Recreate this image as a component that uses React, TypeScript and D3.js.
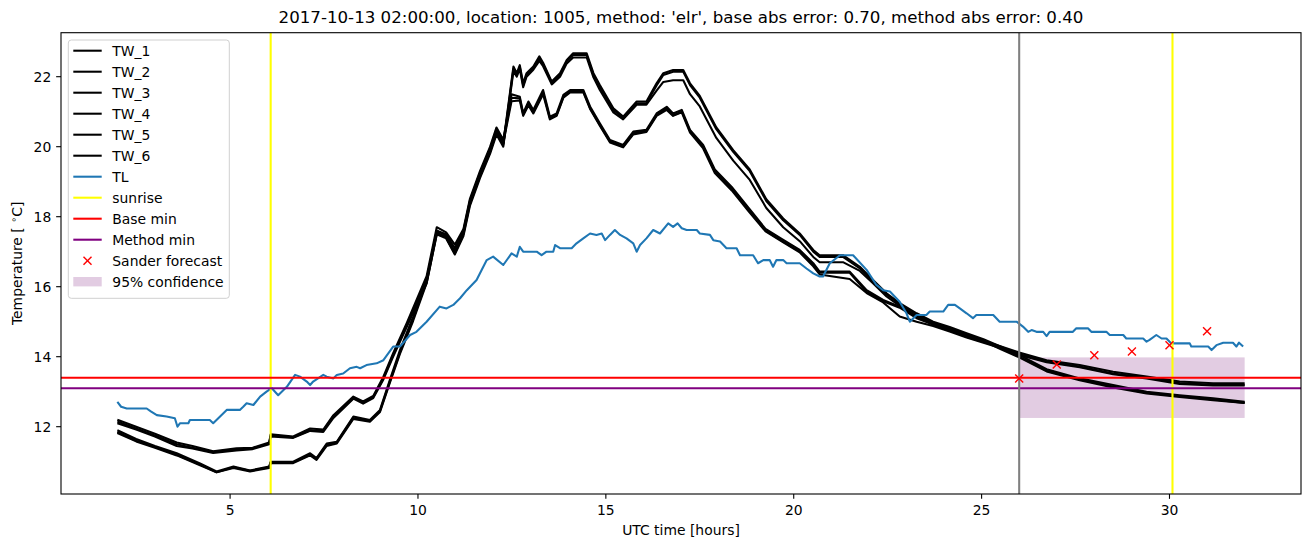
import React from "react";
import * as d3 from "d3";

// ---------------- data ----------------
const TITLE =
  "2017-10-13 02:00:00, location: 1005, method: 'elr', base abs error: 0.70, method abs error: 0.40";

const xTicks = [5, 10, 15, 20, 25, 30];
const yTicks = [12, 14, 16, 18, 20, 22];

const sunriseTimes = [6.08, 30.08];
const forecastStart = 26.0;
const baseMin = 13.4;
const methodMin = 13.1;
const confidence = { x0: 26.0, x1: 32.0, lo: 12.25, hi: 13.98 };

const sanderTimes = [26, 27, 28, 29, 30, 31];
const sanderValues = [13.38, 13.78, 14.04, 14.15, 14.33, 14.73];

const tlTimes = [
  2.0, 2.1, 2.25, 2.78, 2.9, 3.05, 3.31, 3.53, 3.6, 3.67, 3.89, 3.93, 4.46, 4.55, 4.91, 5.26, 5.35, 5.44, 5.62, 5.8,
  5.97, 6.11, 6.28, 6.51, 6.73, 6.86, 7.04, 7.13, 7.21, 7.48, 7.57, 7.75, 7.84, 8.01, 8.19, 8.37, 8.46, 8.63, 8.9, 9.08,
  9.34, 9.52, 9.79, 9.96, 10.23, 10.58, 10.76, 10.94, 11.12, 11.3, 11.56, 11.83, 12.0, 12.27, 12.49, 12.63, 12.71, 12.8, 13.16, 13.29,
  13.42, 13.6, 13.65, 13.78, 14.09, 14.22, 14.4, 14.58, 14.75, 14.89, 14.98, 15.11, 15.24, 15.38, 15.55, 15.73, 15.82, 15.91, 16.08, 16.26,
  16.44, 16.66, 16.79, 16.91, 17.02, 17.15, 17.42, 17.5, 17.77, 17.86, 18.04, 18.21, 18.48, 18.57, 18.92, 19.05, 19.19, 19.36, 19.45, 19.54,
  19.72, 19.81, 20.16, 20.34, 20.52, 20.69, 20.78, 20.96, 21.23, 21.58, 21.94, 22.2, 22.38, 22.56, 22.82, 23.0, 23.09, 23.27, 23.53, 23.62,
  23.98, 24.11, 24.29, 24.42, 24.6, 24.77, 24.86, 24.99, 25.31, 25.48, 25.93, 26.1, 26.24, 26.33, 26.46, 26.64, 26.73, 26.81, 27.43, 27.52,
  27.83, 27.92, 28.32, 28.41, 28.77, 28.85, 29.3, 29.39, 29.47, 29.65, 29.79, 29.92, 30.05, 30.54, 30.58, 31.03, 31.12, 31.25, 31.43, 31.69,
  31.78, 31.85, 31.96,
];
const tlValues = [
  12.71, 12.57, 12.52, 12.52, 12.43, 12.33, 12.29, 12.24, 12.0, 12.1, 12.1, 12.19, 12.19, 12.1, 12.48, 12.48, 12.57, 12.67, 12.62, 12.86,
  13.0, 13.1, 12.9, 13.14, 13.48, 13.43, 13.29, 13.19, 13.29, 13.48, 13.43, 13.38, 13.48, 13.52, 13.67, 13.71, 13.67, 13.76, 13.81, 13.9,
  14.29, 14.29, 14.62, 14.71, 15.0, 15.43, 15.38, 15.48, 15.67, 15.9, 16.19, 16.76, 16.86, 16.62, 16.95, 16.86, 17.14, 17.0, 17.0, 16.9,
  17.0, 17.0, 17.19, 17.1, 17.1, 17.24, 17.38, 17.52, 17.48, 17.52, 17.33, 17.48, 17.62, 17.48, 17.38, 17.24, 17.0, 17.19, 17.38, 17.62,
  17.52, 17.81, 17.71, 17.81, 17.67, 17.62, 17.62, 17.52, 17.48, 17.33, 17.29, 17.1, 17.1, 16.9, 16.9, 16.67, 16.76, 16.76, 16.57, 16.76,
  16.76, 16.67, 16.67, 16.52, 16.38, 16.29, 16.29, 16.67, 16.9, 16.9, 16.48, 16.05, 15.9, 15.86, 15.57, 15.24, 15.0, 15.19, 15.19, 15.29,
  15.29, 15.48, 15.48, 15.38, 15.24, 15.1, 15.19, 15.19, 15.19, 15.0, 15.0, 14.86, 14.71, 14.76, 14.71, 14.71, 14.59, 14.71, 14.71, 14.81,
  14.81, 14.71, 14.71, 14.62, 14.62, 14.52, 14.52, 14.43, 14.48, 14.62, 14.52, 14.52, 14.38, 14.38, 14.29, 14.29, 14.19, 14.33, 14.4, 14.4,
  14.29, 14.4, 14.29,
];

const timesA = [
  2.0, 2.5, 3.0, 3.58, 4.0, 4.55, 5.17, 5.6, 6.04, 6.08,
  6.68, 7.13, 7.48, 7.75, 8.28, 8.54, 8.81, 9.08, 9.34, 9.7,
  10.23, 10.5, 10.75, 10.98, 11.21, 11.38, 11.65, 11.92, 12.09, 12.27,
  12.49, 12.71, 12.8, 12.94, 13.07, 13.33, 13.51, 13.69, 13.87, 14.05,
  14.4, 14.58, 14.84, 15.11, 15.46, 15.73, 16.08, 16.35, 16.62, 16.79,
  17.02, 17.24, 17.59, 17.9, 18.35, 18.8, 19.25, 19.7, 20.16, 20.52,
  20.69, 21.49, 21.94, 22.38, 22.82, 23.27, 23.71, 24.15, 24.6, 25.05,
  25.5, 26.0, 26.73, 27.61, 28.5, 29.39, 30.27, 31.16, 32.0,
];
const tw1 = [
  12.2, 12.0, 11.8, 11.55, 11.45, 11.3, 11.38, 11.4, 11.55, 11.78,
  11.72, 11.95, 11.92, 12.33, 12.86, 12.72, 12.88, 13.43, 14.1, 14.96,
  16.3, 17.7, 17.55, 17.2, 17.65, 18.5, 19.3, 20.0, 20.55, 20.2,
  21.5, 21.43, 20.96, 21.29, 21.05, 21.62, 20.86, 20.95, 21.48, 21.62,
  21.62, 21.15, 20.67, 20.19, 20.05, 20.43, 20.48, 20.95, 21.14, 20.95,
  21.05, 20.48, 20.05, 19.35, 18.85, 18.25, 17.65, 17.35, 17.05, 16.67,
  16.43, 16.43, 15.9, 15.62, 15.43, 15.14, 14.95, 14.8, 14.6, 14.45,
  14.3, 14.12, 13.9, 13.76, 13.57, 13.43, 13.29, 13.24, 13.24,
];
const tw2 = [
  12.15, 11.95, 11.75, 11.5, 11.4, 11.28, 11.35, 11.38, 11.52, 11.76,
  11.7, 11.9, 11.88, 12.3, 12.82, 12.7, 12.85, 13.38, 14.05, 14.9,
  16.2, 17.6, 17.5, 17.1, 17.6, 18.45, 19.25, 19.95, 20.5, 20.15,
  21.4, 21.38, 20.92, 21.22, 21.0, 21.55, 20.82, 20.9, 21.42, 21.58,
  21.58, 21.1, 20.62, 20.15, 20.0, 20.38, 20.45, 20.9, 21.1, 20.9,
  21.0, 20.45, 20.0, 19.3, 18.8, 18.2, 17.6, 17.3, 17.0, 16.62,
  16.4, 16.4, 15.85, 15.58, 15.4, 15.1, 14.92, 14.75, 14.57, 14.42,
  14.27, 14.08, 13.86, 13.72, 13.52, 13.4, 13.25, 13.2, 13.2,
];
const tw3 = [
  12.1, 11.92, 11.72, 11.45, 11.38, 11.25, 11.32, 11.36, 11.5, 11.72,
  11.68, 11.88, 11.85, 12.25, 12.8, 12.66, 12.82, 13.35, 14.0, 14.85,
  16.1, 17.5, 17.42, 17.0, 17.55, 18.4, 19.2, 19.9, 20.45, 20.1,
  21.3, 21.32, 20.88, 21.18, 20.95, 21.5, 20.78, 20.88, 21.4, 21.55,
  21.55, 21.08, 20.6, 20.12, 19.98, 20.35, 20.42, 20.88, 21.05, 20.88,
  20.98, 20.4, 19.95, 19.25, 18.75, 18.15, 17.58, 17.28, 16.98, 16.58,
  16.35, 16.22, 15.82, 15.55, 15.15, 15.0, 14.88, 14.72, 14.55, 14.4,
  14.25, 14.05, 13.84, 13.7, 13.5, 13.38, 13.22, 13.18, 13.18,
];

const timesB = [
  2.0, 2.5, 3.0, 3.58, 4.2, 4.64, 5.09, 5.53, 6.04, 6.08,
  6.68, 7.13, 7.3, 7.57, 7.84, 8.28, 8.72, 8.99, 9.25, 9.52,
  9.87, 10.23, 10.5, 10.75, 10.98, 11.21, 11.38, 11.65, 11.92, 12.09,
  12.27, 12.54, 12.63, 12.71, 12.8, 12.89, 13.07, 13.23, 13.33, 13.56,
  13.78, 13.96, 14.13, 14.49, 14.67, 14.84, 15.2, 15.46, 15.82, 16.08,
  16.35, 16.53, 16.79, 17.06, 17.24, 17.5, 17.94, 18.39, 18.83, 19.27,
  19.72, 20.16, 20.52, 20.69, 21.31, 21.76, 22.11, 22.47, 22.82, 23.27,
  23.71, 24.15, 24.6, 25.05, 25.5, 26.0, 26.73, 27.61, 28.5, 29.39,
  30.27, 31.16, 32.0,
];
const tw4 = [
  11.9, 11.65, 11.45, 11.24, 10.95, 10.72, 10.86, 10.75, 10.86, 11.0,
  11.0, 11.24, 11.1, 11.52, 11.57, 12.29, 12.19, 12.48, 13.33, 14.19,
  15.14, 16.2, 17.6, 17.45, 17.0, 17.55, 18.4, 19.2, 19.9, 20.45,
  20.1, 22.29, 22.1, 22.33, 21.81, 22.1, 22.29, 22.58, 22.4, 21.86,
  22.1, 22.48, 22.67, 22.67, 22.1, 21.76, 21.1, 20.86, 21.29, 21.29,
  21.81, 22.1, 22.19, 22.19, 21.81, 21.45, 20.55, 19.9, 19.35, 18.5,
  17.95, 17.52, 17.05, 16.9, 16.9, 16.57, 16.19, 15.81, 15.53, 15.24,
  15.0, 14.85, 14.67, 14.5, 14.29, 14.05, 13.64, 13.38, 13.19, 13.0,
  12.9, 12.81, 12.71,
];
const tw5 = [
  11.85, 11.6, 11.42, 11.2, 10.92, 10.7, 10.84, 10.74, 10.84, 10.98,
  10.98, 11.2, 11.08, 11.48, 11.55, 12.25, 12.16, 12.45, 13.28, 14.12,
  15.08, 16.15, 17.55, 17.4, 16.95, 17.5, 18.35, 19.15, 19.85, 20.4,
  20.05, 22.22, 22.05, 22.28, 21.75, 22.05, 22.25, 22.52, 22.36, 21.82,
  22.05, 22.44, 22.62, 22.62, 22.05, 21.7, 21.05, 20.82, 21.24, 21.24,
  21.75, 22.05, 22.14, 22.14, 21.76, 21.4, 20.5, 19.85, 19.3, 18.45,
  17.9, 17.48, 17.0, 16.85, 16.85, 16.52, 16.15, 15.78, 15.5, 15.2,
  14.97, 14.82, 14.63, 14.47, 14.25, 14.0, 13.6, 13.35, 13.15, 12.97,
  12.87, 12.78, 12.68,
];
const tw6 = [
  11.82, 11.58, 11.4, 11.18, 10.9, 10.7, 10.82, 10.72, 10.82, 10.96,
  10.96, 11.18, 11.05, 11.45, 11.52, 12.22, 12.14, 12.42, 13.25, 14.08,
  15.02, 16.1, 17.5, 17.38, 16.92, 17.45, 18.3, 19.1, 19.8, 20.35,
  20.0, 22.15, 22.0, 22.22, 21.7, 22.0, 22.2, 22.45, 22.3, 21.78,
  22.0, 22.38, 22.55, 22.55, 21.98, 21.62, 20.98, 20.78, 21.2, 21.2,
  21.6, 21.85, 21.9, 21.9, 21.5, 21.15, 20.25, 19.6, 19.05, 18.25,
  17.7, 17.3, 16.85, 16.7, 16.7, 16.45, 16.1, 15.72, 15.45, 15.15,
  14.92, 14.78, 14.6, 14.45, 14.22, 13.98, 13.58, 13.33, 13.12, 12.95,
  12.85, 12.76, 12.68,
];

const twSeries = [
  { name: "TW_1", times: timesA, values: tw1 },
  { name: "TW_2", times: timesA, values: tw2 },
  { name: "TW_3", times: timesA, values: tw3 },
  { name: "TW_4", times: timesB, values: tw4 },
  { name: "TW_5", times: timesB, values: tw5 },
  { name: "TW_6", times: timesB, values: tw6 },
];

// ---------------- layout ----------------
const W = 1311;
const H = 547;
const left = 61;
const right = 1301;
const top = 32.7;
const bottom = 494;
const FONT = "DejaVu Sans, sans-serif";
const LW = 2.08;
const TL_COLOR = "#1f77b4";

export default function App() {
  const x = d3.scaleLinear().domain([0.5, 33.5]).range([left, right]);
  const y = d3.scaleLinear().domain([10.077, 23.257]).range([bottom, top]);

  const line = d3
    .line<[number, number]>()
    .x((d) => x(d[0]))
    .y((d) => y(d[1]));

  const zip = (t: number[], v: number[]) =>
    t.slice(0, Math.min(t.length, v.length)).map((tt, i) => [tt, v[i]] as [number, number]);

  const legendItems = [
    ...twSeries.map((s) => ({ label: s.name, kind: "line", color: "#000" })),
    { label: "TL", kind: "line", color: TL_COLOR },
    { label: "sunrise", kind: "line", color: "yellow" },
    { label: "Base min", kind: "line", color: "red" },
    { label: "Method min", kind: "line", color: "purple" },
    { label: "Sander forecast", kind: "x", color: "red" },
    { label: "95% confidence", kind: "patch", color: "#e2cce2" },
  ];

  const tickLen = 4.86;
  const xMarker = (cx: number, cy: number, r: number, key: string) => (
    <g key={key} stroke="red" strokeWidth={1.4}>
      <line x1={cx - r} y1={cy - r} x2={cx + r} y2={cy + r} />
      <line x1={cx - r} y1={cy + r} x2={cx + r} y2={cy - r} />
    </g>
  );

  return (
    <svg
      width={W}
      height={H}
      style={{ position: "absolute", left: 0, top: 0, background: "#fff" }}
      fontFamily={FONT}
    >
      <defs>
        <clipPath id="plotClip">
          <rect x={left} y={top} width={right - left} height={bottom - top} />
        </clipPath>
      </defs>
      <rect x={0} y={0} width={W} height={H} fill="#fff" />

      <g clipPath="url(#plotClip)">
        {/* confidence band */}
        <rect
          x={x(confidence.x0)}
          y={y(confidence.hi)}
          width={x(confidence.x1) - x(confidence.x0)}
          height={y(confidence.lo) - y(confidence.hi)}
          fill="#e2cce2"
        />
        {twSeries.map((s) => (
          <path
            key={s.name}
            d={line(zip(s.times, s.values)) || ""}
            fill="none"
            stroke="#000"
            strokeWidth={LW}
            strokeLinejoin="round"
          />
        ))}
        <path
          d={line(zip(tlTimes, tlValues)) || ""}
          fill="none"
          stroke={TL_COLOR}
          strokeWidth={LW}
          strokeLinejoin="round"
        />
        {sunriseTimes.map((t, i) => (
          <line key={"sr" + i} x1={x(t)} x2={x(t)} y1={top} y2={bottom} stroke="yellow" strokeWidth={LW} />
        ))}
        <line x1={left} x2={right} y1={y(baseMin)} y2={y(baseMin)} stroke="red" strokeWidth={LW} />
        <line x1={left} x2={right} y1={y(methodMin)} y2={y(methodMin)} stroke="purple" strokeWidth={LW} />
        <line
          x1={x(forecastStart)}
          x2={x(forecastStart)}
          y1={top}
          y2={bottom}
          stroke="gray"
          strokeWidth={LW}
        />
        {sanderTimes.map((t, i) => xMarker(x(t), y(sanderValues[i]), 4, "sf" + i))}
      </g>

      {/* frame */}
      <rect x={left} y={top} width={right - left} height={bottom - top} fill="none" stroke="#000" strokeWidth={1.1} />

      {/* x axis */}
      {xTicks.map((t) => (
        <g key={"xt" + t}>
          <line x1={x(t)} x2={x(t)} y1={bottom} y2={bottom + tickLen} stroke="#000" strokeWidth={1.1} />
          <text x={x(t)} y={bottom + 20.5} textAnchor="middle" fontSize={13.9} fill="#000">
            {t}
          </text>
        </g>
      ))}
      <text x={(left + right) / 2} y={535} textAnchor="middle" fontSize={13.9} fill="#000">
        UTC time [hours]
      </text>

      {/* y axis */}
      {yTicks.map((t) => (
        <g key={"yt" + t}>
          <line x1={left - tickLen} x2={left} y1={y(t)} y2={y(t)} stroke="#000" strokeWidth={1.1} />
          <text x={left - 9.7} y={y(t) + 5} textAnchor="end" fontSize={13.9} fill="#000">
            {t}
          </text>
        </g>
      ))}
      <text
        transform={`translate(22, ${(top + bottom) / 2}) rotate(-90)`}
        textAnchor="middle"
        fontSize={13.9}
        fill="#000"
        xmlSpace="preserve"
      >
        {"Temperature [ "}
        <tspan fontSize={9.7} dy={-5}>
          {"\u2218"}
        </tspan>
        <tspan dy={5}>C]</tspan>
      </text>

      {/* title */}
      <text x={(left + right) / 2} y={23} textAnchor="middle" fontSize={16.67} fill="#000">
        {TITLE}
      </text>

      {/* legend */}
      <g>
        <rect x={68.3} y={40} width={161} height={258.3} rx={3} fill="#fff" fillOpacity={0.8} stroke="#d0d0d0" strokeWidth={1} />
        {legendItems.map((it, i) => {
          const cy = 50.7 + i * 21.0;
          let handle;
          if (it.kind === "line") {
            handle = <line x1={73.3} x2={101.7} y1={cy} y2={cy} stroke={it.color} strokeWidth={LW} />;
          } else if (it.kind === "x") {
            handle = xMarker(87.5, cy, 4, "lgx");
          } else {
            handle = <rect x={73.3} y={cy - 4.7} width={28.4} height={9.4} fill={it.color} />;
          }
          return (
            <g key={"lg" + i}>
              {handle}
              <text x={112.3} y={cy + 5} fontSize={13.9} fill="#000">
                {it.label}
              </text>
            </g>
          );
        })}
      </g>
    </svg>
  );
}
